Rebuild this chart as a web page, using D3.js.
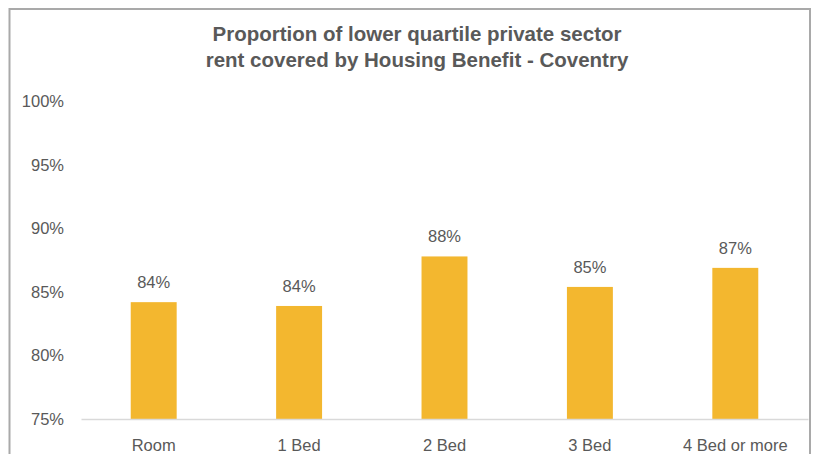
<!DOCTYPE html>
<html>
<head>
<meta charset="utf-8">
<script src="https://cdn.jsdelivr.net/npm/d3@7"></script>
<style>
  body { margin: 0; background: #fff; }
  svg { display: block; }
  text { font-family: "Liberation Sans", Arial, sans-serif; fill: #595959; }
</style>
</head>
<body>
<div id="chart"></div>
<script>
// chart data
var categories = ["Room", "1 Bed", "2 Bed", "3 Bed", "4 Bed or more"];
var values = [84.2, 83.9, 87.8, 85.4, 86.9];
var valueLabels = ["84%", "84%", "88%", "85%", "87%"];
var yTicks = [75, 80, 85, 90, 95, 100];
var titleLines = ["Proportion of lower quartile private sector",
                  "rent covered by Housing Benefit - Coventry"];

makeChart();

function makeChart() {
  var W = 815, H = 454;

  var svg = d3.select("#chart").append("svg")
      .attr("width", W)
      .attr("height", H);

  // outer chart border (bottom runs off the picture)
  svg.append("rect")
      .attr("x", 9.5).attr("y", 9)
      .attr("width", 800.5).attr("height", 460)
      .attr("fill", "none")
      .attr("stroke", "#a9a9a9")
      .attr("stroke-width", 2);

  // title
  svg.append("g").selectAll("text")
      .data(titleLines)
      .enter()
      .append("text")
        .attr("x", 417)
        .attr("y", function(d, i) { return 41 + i * 26; })
        .attr("text-anchor", "middle")
        .style("font-size", "20.5px")
        .style("font-weight", "bold")
        .text(function(d) { return d; });

  var x = d3.scaleBand()
      .domain(categories)
      .range([81, 808])
      .paddingInner(0.684)
      .paddingOuter(0.342);

  var y = d3.scaleLinear()
      .domain([75, 100])
      .range([419, 101.5]);

  // y axis labels only (no line, no ticks)
  var yAxis = svg.append("g")
      .attr("transform", "translate(64,0)")
      .call(d3.axisLeft(y).tickValues(yTicks).tickSize(0).tickPadding(0)
        .tickFormat(function(d) { return d + "%"; }));
  yAxis.select(".domain").remove();
  yAxis.selectAll("text")
      .attr("fill", "#595959")
      .style("font-family", "Liberation Sans, Arial, sans-serif")
      .style("font-size", "16.5px");

  // bars
  svg.append("g").selectAll("rect")
      .data(values)
      .enter()
      .append("rect")
        .attr("x", function(d, i) { return x(categories[i]); })
        .attr("y", function(d) { return y(d); })
        .attr("width", x.bandwidth())
        .attr("height", function(d) { return y(75) - y(d); })
        .attr("fill", "#f3b72f");

  // value labels
  svg.append("g").selectAll("text")
      .data(values)
      .enter()
      .append("text")
        .attr("x", function(d, i) { return x(categories[i]) + x.bandwidth() / 2; })
        .attr("y", function(d) { return y(d) - 14; })
        .attr("text-anchor", "middle")
        .style("font-size", "16.5px")
        .text(function(d, i) { return valueLabels[i]; });

  // x axis
  var xAxis = svg.append("g")
      .attr("transform", "translate(0," + y(75) + ")")
      .call(d3.axisBottom(x).tickSize(0).tickPadding(0));
  xAxis.select(".domain")
      .attr("stroke", "#d9d9d9")
      .attr("stroke-width", 1.5);
  xAxis.selectAll("text")
      .attr("fill", "#595959")
      .attr("dy", null)
      .attr("y", 32)
      .style("font-family", "Liberation Sans, Arial, sans-serif")
      .style("font-size", "16.5px");
}
</script>
</body>
</html>
